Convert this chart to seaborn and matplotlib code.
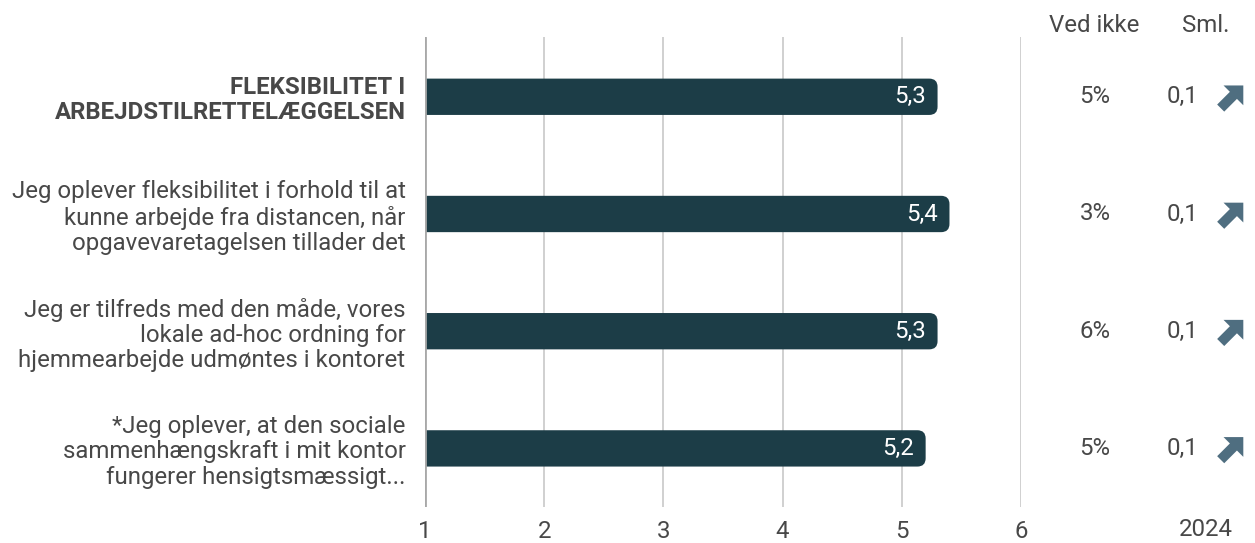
import matplotlib
matplotlib.use("Agg")
import matplotlib.pyplot as plt
import seaborn as sns
import pandas as pd
import numpy as np
from matplotlib.patches import FancyBboxPatch, Polygon

categories = [
    "FLEKSIBILITET I\nARBEJDSTILRETTELÆGGELSEN",
    "Jeg oplever fleksibilitet i forhold til at\nkunne arbejde fra distancen, når\nopgavevaretagelsen tillader det",
    "Jeg er tilfreds med den måde, vores\nlokale ad-hoc ordning for\nhjemmearbejde udmøntes i kontoret",
    "*Jeg oplever, at den sociale\nsammenhængskraft i mit kontor\nfungerer hensigtsmæssigt...",
]
values = [5.3, 5.4, 5.3, 5.2]
value_labels = ["5,3", "5,4", "5,3", "5,2"]
ved_ikke = ["5%", "3%", "6%", "5%"]
sml = ["0,1", "0,1", "0,1", "0,1"]
x_ticks = [1, 2, 3, 4, 5, 6]
year_label = "2024"

sns.set_theme(style="white")
plt.rcParams["font.family"] = ["Roboto", "DejaVu Sans"]

FS = 17.3
TXT = "#484848"
W, H = 1255, 543
fig = plt.figure(figsize=(W / 100, H / 100), dpi=100)
ax_l, ax_r, ax_t, ax_b = 425, 1021, 37, 507
ax = fig.add_axes([ax_l / W, 1 - ax_b / H, (ax_r - ax_l) / W, (ax_b - ax_t) / H])

df = pd.DataFrame({"cat": categories, "val": values})
bar_color = "#1c3d47"
sns.barplot(data=df, x="val", y="cat", orient="h", color=bar_color, width=0.31,
            ax=ax, saturation=1)

# replace with right-rounded bars (left side clipped by xlim)
for p in list(ax.patches):
    x0, y0 = p.get_x(), p.get_y()
    w, h = p.get_width(), p.get_height()
    p.remove()
    fb = FancyBboxPatch((x0, y0), w, h, boxstyle="round,pad=0,rounding_size=0.07",
                        facecolor=bar_color, edgecolor="none", zorder=3, clip_on=True)
    ax.add_patch(fb)

ax.set_xlim(1, 6)
ax.set_ylim(3.5, -0.51)
ax.set_xticks(x_ticks)
ax.set_xticklabels([str(t) for t in x_ticks])
for t in x_ticks[1:]:
    ax.axvline(t, color="#c4c4c4", lw=1.1, zorder=1)
ax.axvline(1, color="#a8a8a8", lw=2, zorder=4)
for s in ax.spines.values():
    s.set_visible(False)
ax.tick_params(axis="x", length=0, pad=9, labelsize=FS, labelcolor=TXT)
ax.tick_params(axis="y", length=0, pad=14)
ax.set_xlabel("")
ax.set_ylabel("")
ax.set_yticks(range(len(categories)))
labels = ax.set_yticklabels(categories, fontsize=FS, color=TXT, linespacing=1.12)
labels[0].set_fontweight("bold")

for i, (v, lab) in enumerate(zip(values, value_labels)):
    ax.text(v - 0.1, i, lab, ha="right", va="center", color="white", fontsize=FS, zorder=5)


def fx(px):
    return px / W


def fy(py):
    return 1 - py / H


fig.text(fx(1094), fy(26), "Ved ikke", ha="center", va="center", fontsize=FS, color=TXT)
fig.text(fx(1206), fy(26), "Sml.", ha="center", va="center", fontsize=FS, color=TXT)

# fat north-east arrow icon (shape in pixels, pointing along +x before rotation)
shape = np.array([[16, 0], [2, 14], [2, 5], [-16, 5], [-16, -5], [2, -5], [2, -14]], dtype=float)
ang = np.deg2rad(45)
rot = np.array([[np.cos(ang), -np.sin(ang)], [np.sin(ang), np.cos(ang)]])
shape_r = shape @ rot.T

for i in range(len(categories)):
    yd = ax.transData.transform((1, i))[1] / H
    fig.text(fx(1095), yd, ved_ikke[i], ha="center", va="center", fontsize=FS, color=TXT)
    fig.text(fx(1182), yd, sml[i], ha="center", va="center", fontsize=FS, color=TXT)
    cx, cy = 1232, yd * H
    pts = np.column_stack([(cx + shape_r[:, 0]) / W, (cy + shape_r[:, 1]) / H])
    fig.add_artist(Polygon(pts, closed=True, transform=fig.transFigure,
                           facecolor="#4f6e80", edgecolor="none"))
fig.text(fx(1206), fy(530), year_label, ha="center", va="center", fontsize=FS, color=TXT)

fig.savefig("out.png", dpi=100)
